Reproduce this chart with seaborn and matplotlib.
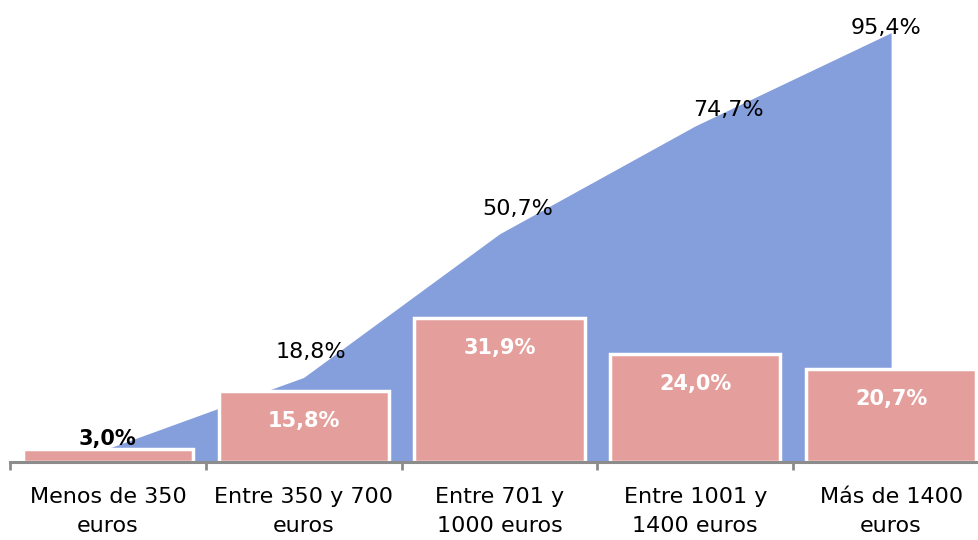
import matplotlib
matplotlib.use("Agg")
import matplotlib.pyplot as plt
import seaborn as sns
import numpy as np
import pandas as pd

categories = ["Menos de 350\neuros", "Entre 350 y 700\neuros", "Entre 701 y\n1000 euros",
              "Entre 1001 y\n1400 euros", "Más de 1400\neuros"]
pct = [3.0, 15.8, 31.9, 24.0, 20.7]
cum = [3.0, 18.8, 50.7, 74.7, 95.4]
pct_labels = ["3,0%", "15,8%", "31,9%", "24,0%", "20,7%"]
cum_labels = ["3,0%", "18,8%", "50,7%", "74,7%", "95,4%"]

sns.set_theme(style="white")
plt.rcParams["font.family"] = ["DejaVu Sans"]

BLUE = "#859EDC"
PINK = "#E49F9C"
GRAY = "#8C8C8C"

fig = plt.figure(figsize=(9.79, 5.4), dpi=100)
W, H = 979, 540
ax = fig.add_axes([10 / W, 1 - 462 / H, 979 / W, 462 / H])

df = pd.DataFrame({"cat": categories, "pct": pct, "cum": cum})
xpos = np.arange(len(categories))

# cumulative area
ax.fill_between(xpos, 0, df["cum"], color=BLUE, linewidth=0, zorder=1)

# bars
sns.barplot(data=df, x="cat", y="pct", color=PINK, saturation=1, width=0.87,
            edgecolor="white", linewidth=2.5, ax=ax, zorder=2)

ax.set_xlim(-0.5, len(categories) - 0.5)
ax.set_ylim(0, 462 / 4.5)
ax.set_xlabel("")
ax.set_ylabel("")
ax.set_yticks([])

for s in ["top", "right", "left"]:
    ax.spines[s].set_visible(False)
ax.spines["bottom"].set_color(GRAY)
ax.spines["bottom"].set_linewidth(2.2)
ax.spines["bottom"].set_zorder(3)

ax.set_xticks(xpos)
ax.set_xticklabels(categories, fontsize=16, color="black", linespacing=1.55)
ax.tick_params(axis="x", which="major", length=0, pad=18)
ax.set_xticks(np.arange(-0.5, len(categories) + 0.5, 1), minor=True)
ax.tick_params(axis="x", which="minor", length=6, width=2, color=GRAY, direction="out", bottom=True)

# bar labels
for i, (v, lab) in enumerate(zip(pct, pct_labels)):
    if i == 0:
        ax.annotate(lab, (i, v), xytext=(0, 7), textcoords="offset points",
                    ha="center", va="center", fontsize=15, fontweight="bold", color="black", zorder=5)
    else:
        ax.annotate(lab, (i, v), xytext=(0, -21.6), textcoords="offset points",
                    ha="center", va="center", fontsize=15, fontweight="bold", color="white", zorder=5)

# cumulative labels (first one is covered by the bar label)
cum_offsets = [(0, 0), (5, 18), (13, 18), (24, 11.5), (-3.6, 3.6)]
for i, (v, lab) in enumerate(zip(cum, cum_labels)):
    if i == 0:
        continue
    dx, dy = cum_offsets[i]
    ax.annotate(lab, (i, v), xytext=(dx, dy), textcoords="offset points",
                ha="center", va="center", fontsize=16, color="black", zorder=5)

fig.savefig("out.png", dpi=100)
